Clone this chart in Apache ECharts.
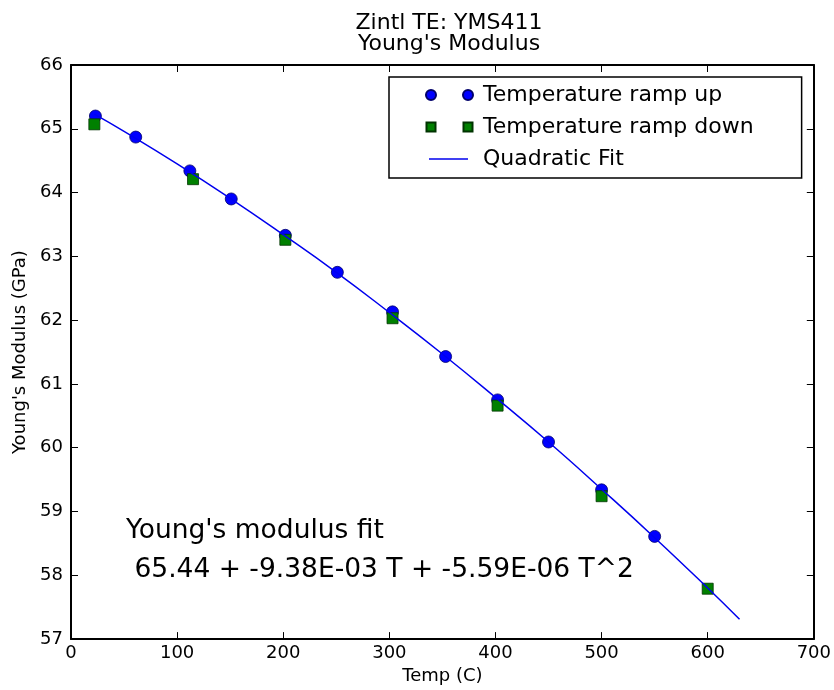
<!DOCTYPE html>
<html>
<head>
<meta charset="utf-8">
<script src="https://cdn.jsdelivr.net/npm/echarts@6/dist/echarts.min.js"></script>
<style>
  html, body { margin: 0; padding: 0; background: #fff; }
  #chart { width: 834px; height: 690px; }
</style>
</head>
<body>
<div id="chart"></div>
<script>
// readings
const rampUpTemp = [23, 61, 112, 151, 202, 251, 303, 353, 402, 450, 500, 550];
const rampUpModulus = [65.20, 64.87, 64.34, 63.90, 63.33, 62.75, 62.13, 61.43, 60.75, 60.09, 59.34, 58.61];

const rampDownTemp = [22, 115, 202, 303, 402, 500, 600];
const rampDownModulus = [65.07, 64.21, 63.26, 62.03, 60.66, 59.24, 57.79];

const fitTemp = [22, 50, 100, 150, 200, 250, 300, 350, 400, 450, 500, 550, 600, 630];
const fitModulus = [65.23, 64.96, 64.45, 63.91, 63.34, 62.75, 62.12, 61.47, 60.79, 60.09, 59.35, 58.59, 57.80, 57.31];

const xTicks = [0, 700, 100];
const yTicks = [57, 66, 1];

const font = 'DejaVu Sans';
const pair = (a, b) => a.map((v, i) => [v, b[i]]);

const chart = echarts.init(document.getElementById('chart'));

// legend icons: two markers side by side, like matplotlib's numpoints=2
const twoDots = 'path://M0,0 M47,10 M0,5 a5,5 0 1,0 10,0 a5,5 0 1,0 -10,0 Z M37,5 a5,5 0 1,0 10,0 a5,5 0 1,0 -10,0 Z';
const twoSquares = 'path://M0,0 M47,10 M0.5,0.5 H9.5 V9.5 H0.5 Z M37.5,0.5 H46.5 V9.5 H37.5 Z';
const fitLine = 'path://M0,0 M47,10 M3,4.3 H42 V5.7 H3 Z';

const axisBase = {
  type: 'value',
  axisLine: { show: true, onZero: false, lineStyle: { color: '#000', width: 2 } },
  axisTick: { show: true, inside: true, length: 7, lineStyle: { color: '#000', width: 1 } },
  splitLine: { show: false }
};

chart.setOption({
  backgroundColor: '#fff',
  animation: false,
  title: {
    text: 'Zintl TE: YMS411\nYoung\'s Modulus',
    left: 444,
    textAlign: 'center',
    top: 8,
    textStyle: { fontFamily: font, fontSize: 22, fontWeight: 'normal', color: '#000', lineHeight: 21 }
  },
  grid: { left: 71, right: 17, top: 65, bottom: 47 },
  legend: {
    orient: 'vertical',
    left: 389,
    top: 77,
    padding: [7, 48, 8, 36],
    itemGap: 10,
    itemWidth: 47,
    itemHeight: 10,
    backgroundColor: '#fff',
    borderColor: '#000',
    borderWidth: 1.5,
    borderRadius: 0,
    textStyle: { fontFamily: font, fontSize: 22, lineHeight: 22, color: '#000', padding: [0, 0, 0, 5] },
    data: [
      { name: 'Temperature ramp up', icon: twoDots },
      { name: 'Temperature ramp down', icon: twoSquares },
      { name: 'Quadratic Fit', icon: fitLine }
    ]
  },
  xAxis: [
    Object.assign({}, axisBase, {
      min: xTicks[0], max: xTicks[1], interval: xTicks[2],
      name: 'Temp (C)', nameLocation: 'middle', nameGap: 27,
      nameTextStyle: { fontFamily: font, fontSize: 18, color: '#000' },
      axisLabel: { fontFamily: font, fontSize: 18, color: '#000', margin: 5 }
    }),
    Object.assign({}, axisBase, {
      position: 'top',
      min: xTicks[0], max: xTicks[1], interval: xTicks[2],
      axisLabel: { show: false }
    })
  ],
  yAxis: [
    Object.assign({}, axisBase, {
      min: yTicks[0], max: yTicks[1], interval: yTicks[2],
      name: 'Young\'s Modulus (GPa)', nameLocation: 'middle', nameGap: 39,
      nameTextStyle: { fontFamily: font, fontSize: 18, color: '#000' },
      axisLabel: { fontFamily: font, fontSize: 18, color: '#000', margin: 8 }
    }),
    Object.assign({}, axisBase, {
      position: 'right',
      min: yTicks[0], max: yTicks[1], interval: yTicks[2],
      axisLabel: { show: false }
    })
  ],
  graphic: [
    {
      type: 'text',
      left: 126,
      top: 512,
      style: {
        text: 'Young\'s modulus fit\n 65.44 + -9.38E-03 T + -5.59E-06 T^2',
        font: '26.5px "DejaVu Sans"',
        fill: '#000',
        lineHeight: 39
      }
    }
  ],
  series: [
    {
      name: 'Temperature ramp up',
      type: 'scatter',
      symbol: 'circle',
      symbolSize: 12,
      itemStyle: { color: '#0000ff', borderColor: '#00006a', borderWidth: 0.8, opacity: 1 },
      data: pair(rampUpTemp, rampUpModulus)
    },
    {
      name: 'Temperature ramp down',
      type: 'scatter',
      symbol: 'rect',
      symbolSize: 11,
      itemStyle: { color: '#008000', borderColor: '#003300', borderWidth: 0.8, opacity: 1 },
      data: pair(rampDownTemp, rampDownModulus)
    },
    {
      name: 'Quadratic Fit',
      type: 'line',
      smooth: true,
      showSymbol: false,
      symbol: 'none',
      lineStyle: { color: '#0000ee', width: 1.5 },
      itemStyle: { color: '#0000ee' },
      data: pair(fitTemp, fitModulus)
    }
  ]
});
</script>
</body>
</html>
